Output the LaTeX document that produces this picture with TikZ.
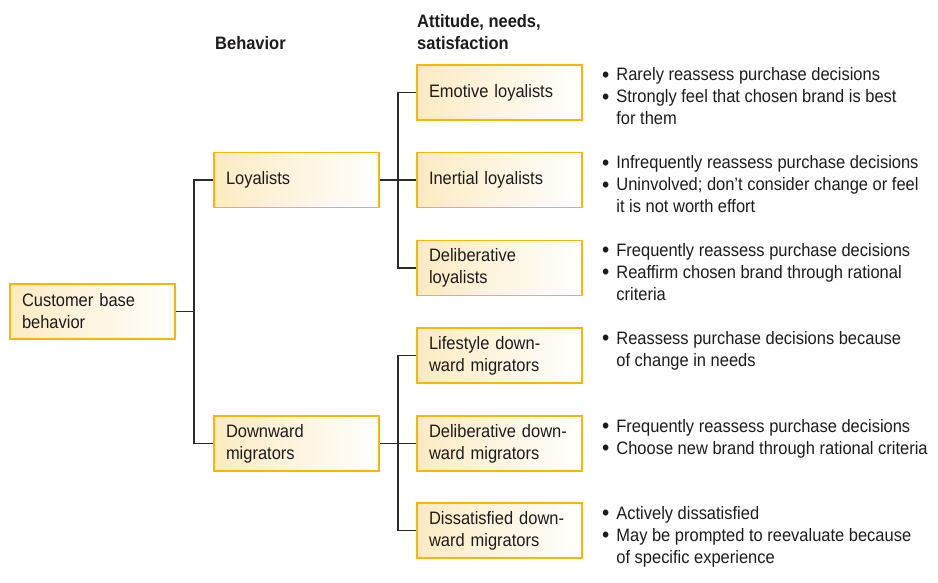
\documentclass[tikz,border=0pt]{standalone}
\usepackage{fontspec}
\setmainfont[FakeStretch=0.915]{Liberation Sans}
\usepackage{array}
\usepackage{graphicx}
\definecolor{boxedge}{HTML}{F9B800}
\definecolor{boxfill}{HTML}{FCEBC2}
\definecolor{ink}{HTML}{1E1B1C}
\definecolor{wire}{HTML}{2B2B2B}
\begin{document}
\begin{tikzpicture}[x=1pt,y=-1pt,
  every node/.style={text=ink,font=\fontsize{18}{22}\selectfont},
  catbox/.style={draw=boxedge,line width=1.7pt,left color=boxfill,right color=white,
    shading angle=90,minimum width=165pt,minimum height=55pt,text width=141pt,
    inner xsep=12pt,align=left},
  head/.style={font=\fontsize{18}{22}\selectfont\bfseries,anchor=base west,align=left,inner sep=0pt},
  notes/.style={anchor=base west,inner sep=0pt},
  wire/.style={draw=wire,line width=1.2pt}]
\useasboundingbox (0,0) rectangle (938,583);

% column headings
\node[head] (hbeh) at (215,50) {Behavior};
\node[head] (hatt) at (417,50) {Attitude, needs,\\satisfaction};

% tree of boxes
\node[catbox] (root) at (92.5,311.5) {Customer base\\behavior};
\node[catbox] (loy) at (296.5,180) {Loyalists};
\node[catbox] (down) at (296.5,443.5) {Downward\\migrators};
\node[catbox] (emo) at (499.5,92.5) {Emotive loyalists};
\node[catbox] (ine) at (499.5,180) {Inertial loyalists};
\node[catbox] (dlo) at (499.5,268) {Deliberative\\loyalists};
\node[catbox] (lif) at (499.5,355.5) {Lifestyle down-\\ward migrators};
\node[catbox] (ddm) at (499.5,443.5) {Deliberative down-\\ward migrators};
\node[catbox] (dis) at (499.5,530.5) {Dissatisfied down-\\ward migrators};

% connectors
\coordinate (j1) at (194,311.5);
\coordinate (j2) at (398,180);
\coordinate (j3) at (398,443.5);
\draw[wire] (root.east) -- (j1);
\draw[wire] (j1) |- (loy.west);
\draw[wire] (j1) |- (down.west);
\draw[wire] (loy.east) -- (ine.west);
\draw[wire] (j2) |- (emo.west);
\draw[wire] (j2) |- (dlo.west);
\draw[wire] (down.east) -- (ddm.west);
\draw[wire] (j3) |- (lif.west);
\draw[wire] (j3) |- (dis.west);

% descriptions
\newcommand{\blt}{\raisebox{-1.8pt}{\scalebox{1.25}{\textbullet}}}
\newcommand{\notelist}[1]{\begin{tabular}[t]{@{}l@{\hspace{7pt}}l@{}}#1\end{tabular}}
\node[notes] (t1) at (602,81) {\notelist{\blt & Rarely reassess purchase decisions\\
  \blt & Strongly feel that chosen brand is best\\ & for them}};
\node[notes] (t2) at (602,169) {\notelist{\blt & Infrequently reassess purchase decisions\\
  \blt & Uninvolved; don’t consider change or feel\\ & it is not worth effort}};
\node[notes] (t3) at (602,256) {\notelist{\blt & Frequently reassess purchase decisions\\
  \blt & Reaffirm chosen brand through rational\\ & criteria}};
\node[notes] (t4) at (602,344) {\notelist{\blt & Reassess purchase decisions because\\
  & of change in needs}};
\node[notes] (t5) at (602,432) {\notelist{\blt & Frequently reassess purchase decisions\\
  \blt & Choose new brand through rational criteria}};
\node[notes] (t6) at (602,519) {\notelist{\blt & Actively dissatisfied\\
  \blt & May be prompted to reevaluate because\\ & of specific experience}};
\end{tikzpicture}
\end{document}
